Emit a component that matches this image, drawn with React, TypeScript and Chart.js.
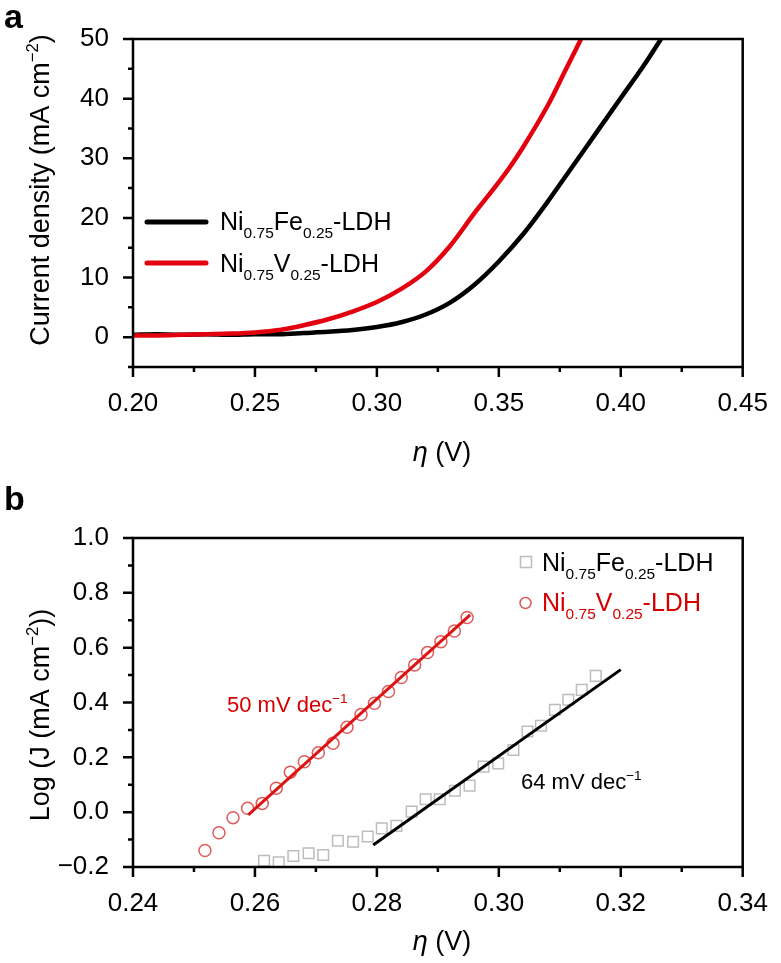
import React, { useEffect, useRef } from 'react';
import { Chart, registerables } from 'chart.js';

Chart.register(...registerables);

const FONT = '"Liberation Sans", Arial, Helvetica, sans-serif';

// ---------- Panel a: polarization curves ----------
const etaFe = [0.20, 0.21, 0.22, 0.23, 0.24, 0.25, 0.26, 0.27, 0.28, 0.29, 0.30, 0.31, 0.32, 0.33, 0.34, 0.35, 0.36, 0.37, 0.38, 0.39, 0.40, 0.41, 0.4165];
const jFe = [0.4, 0.5, 0.4, 0.5, 0.4, 0.5, 0.5, 0.7, 0.9, 1.2, 1.7, 2.5, 3.8, 5.8, 8.8, 12.7, 17.3, 22.7, 28.5, 34.3, 40.1, 45.9, 50];
const etaV = [0.20, 0.21, 0.22, 0.23, 0.24, 0.25, 0.26, 0.27, 0.28, 0.29, 0.30, 0.31, 0.32, 0.33, 0.34, 0.35, 0.355, 0.36, 0.37, 0.377, 0.3837];
const jV = [0.3, 0.3, 0.4, 0.5, 0.6, 0.8, 1.2, 2.0, 3.0, 4.3, 5.9, 8.1, 11.0, 15.3, 20.8, 26.0, 28.8, 31.9, 38.8, 44.5, 50];

// ---------- Panel b: Tafel plots ----------
const etaFeTafel = [0.2615, 0.2639, 0.2663, 0.2688, 0.2712, 0.2736, 0.2761, 0.2785, 0.2808, 0.2832, 0.2857, 0.2880, 0.2903, 0.2928, 0.2952, 0.2975, 0.2999, 0.3024, 0.3047, 0.3069, 0.3092, 0.3114, 0.3136, 0.3159];
const logJFe = [-0.177, -0.183, -0.16, -0.15, -0.156, -0.104, -0.108, -0.089, -0.059, -0.05, 0.002, 0.047, 0.047, 0.078, 0.097, 0.166, 0.178, 0.227, 0.294, 0.315, 0.373, 0.41, 0.446, 0.497];
const etaVTafel = [0.2518, 0.2541, 0.2564, 0.2588, 0.2612, 0.2635, 0.2658, 0.2681, 0.2704, 0.2728, 0.2751, 0.2774, 0.2796, 0.2819, 0.2840, 0.2862, 0.2883, 0.2905, 0.2927, 0.2948];
const logJV = [-0.14, -0.075, -0.02, 0.014, 0.032, 0.087, 0.146, 0.184, 0.217, 0.251, 0.31, 0.356, 0.397, 0.44, 0.491, 0.537, 0.582, 0.622, 0.661, 0.71];
const fitVEta = [0.2589, 0.2953];
const fitVLog = [-0.01, 0.72];
const fitFeEta = [0.2794, 0.3200];
const fitFeLog = [-0.12, 0.52];

const slopeLabels = ['50 mV dec', '64 mV dec'];

type Run = { t: string; sub?: boolean; sup?: boolean; italic?: boolean; bold?: boolean };

const NAME_FE: Run[] = [{ t: 'Ni' }, { t: '0.75', sub: true }, { t: 'Fe' }, { t: '0.25', sub: true }, { t: '-LDH' }];
const NAME_V: Run[] = [{ t: 'Ni' }, { t: '0.75', sub: true }, { t: 'V' }, { t: '0.25', sub: true }, { t: '-LDH' }];

function fontFor(r: Run, size: number) {
  const s = r.sub || r.sup ? size * 0.62 : size;
  return `${r.italic ? 'italic ' : ''}${r.bold ? 'bold ' : ''}${s}px ${FONT}`;
}

function drawRuns(ctx: CanvasRenderingContext2D, runs: Run[], x: number, y: number, size: number, color: string, align: 'left' | 'center' = 'left') {
  ctx.save();
  ctx.fillStyle = color;
  ctx.textBaseline = 'alphabetic';
  ctx.textAlign = 'left';
  let total = 0;
  for (const r of runs) {
    ctx.font = fontFor(r, size);
    total += ctx.measureText(r.t).width;
  }
  let cx = align === 'center' ? x - total / 2 : x;
  for (const r of runs) {
    ctx.font = fontFor(r, size);
    const dy = r.sub ? size * 0.3 : r.sup ? -size * 0.42 : 0;
    ctx.fillText(r.t, cx, y + dy);
    cx += ctx.measureText(r.t).width;
  }
  ctx.restore();
}

function frameAndTicks(chart: any) {
  const { ctx, chartArea: a } = chart;
  ctx.save();
  ctx.strokeStyle = '#000';
  ctx.lineWidth = 2.5;
  ctx.strokeRect(a.left, a.top, a.right - a.left, a.bottom - a.top);
  const xs = chart.scales.x;
  const ys = chart.scales.y;
  ctx.beginPath();
  xs.ticks.forEach((t: any) => {
    const px = xs.getPixelForValue(t.value);
    const len = t.label !== '' ? 10 : 5;
    ctx.moveTo(px, a.bottom);
    ctx.lineTo(px, a.bottom + len);
  });
  ys.ticks.forEach((t: any) => {
    const py = ys.getPixelForValue(t.value);
    const len = t.label !== '' ? 10 : 5;
    ctx.moveTo(a.left, py);
    ctx.lineTo(a.left - len, py);
  });
  ctx.stroke();
  ctx.restore();
}

function legendLine(ctx: CanvasRenderingContext2D, x1: number, x2: number, y: number, color: string) {
  ctx.save();
  ctx.strokeStyle = color;
  ctx.lineWidth = 5;
  ctx.lineCap = 'round';
  ctx.beginPath();
  ctx.moveTo(x1, y);
  ctx.lineTo(x2, y);
  ctx.stroke();
  ctx.restore();
}

const TITLE = 27;

const overlayA = {
  id: 'overlayA',
  afterDraw(chart: any) {
    const ctx = chart.ctx as CanvasRenderingContext2D;
    frameAndTicks(chart);
    drawRuns(ctx, [{ t: 'a', bold: true }], 4, 28, 34, '#000');
    legendLine(ctx, 147, 206, 222, '#000');
    legendLine(ctx, 147, 206, 263, '#e3000f');
    drawRuns(ctx, NAME_FE, 220, 230, 25, '#000');
    drawRuns(ctx, NAME_V, 220, 272, 25, '#000');
    drawRuns(ctx, [{ t: 'η', italic: true }, { t: ' (V)' }], 442, 461, TITLE, '#000', 'center');
    ctx.save();
    ctx.translate(49, 190);
    ctx.rotate(-Math.PI / 2);
    drawRuns(ctx, [{ t: 'Current density (mA cm' }, { t: '−2', sup: true }, { t: ')' }], 0, 0, TITLE, '#000', 'center');
    ctx.restore();
  },
};

const overlayB = {
  id: 'overlayB',
  afterDraw(chart: any) {
    const ctx = chart.ctx as CanvasRenderingContext2D;
    frameAndTicks(chart);
    drawRuns(ctx, [{ t: 'b', bold: true }], 4, 30, 34, '#000');
    ctx.save();
    ctx.strokeStyle = '#bdbdbd';
    ctx.lineWidth = 1.5;
    ctx.strokeRect(520.5, 76.5, 11, 11);
    ctx.strokeStyle = '#e05a5a';
    ctx.beginPath();
    ctx.arc(525.5, 123, 5.5, 0, Math.PI * 2);
    ctx.stroke();
    ctx.restore();
    drawRuns(ctx, NAME_FE, 542, 91, 25, '#000');
    drawRuns(ctx, NAME_V, 542, 131, 25, '#d40000');
    drawRuns(ctx, [{ t: slopeLabels[0] }, { t: '−1', sup: true }], 227, 232, 22, '#d40000');
    drawRuns(ctx, [{ t: slopeLabels[1] }, { t: '−1', sup: true }], 521, 309, 22, '#000');
    drawRuns(ctx, [{ t: 'η', italic: true }, { t: ' (V)' }], 442, 470, TITLE, '#000', 'center');
    ctx.save();
    ctx.translate(49, 235);
    ctx.rotate(-Math.PI / 2);
    drawRuns(ctx, [{ t: 'Log (J (mA cm' }, { t: '−2', sup: true }, { t: '))' }], 0, 0, TITLE, '#000', 'center');
    ctx.restore();
  },
};

const tickFont = { family: FONT, size: 26 };

function pts(xs: number[], ys: number[]) {
  return xs.map((x, i) => ({ x, y: ys[i] }));
}

export default function App() {
  const refA = useRef<HTMLCanvasElement>(null);
  const refB = useRef<HTMLCanvasElement>(null);

  useEffect(() => {
    const chartA = new Chart(refA.current!, {
      type: 'scatter',
      data: {
        datasets: [
          { label: 'Ni0.75V0.25-LDH', data: pts(etaV, jV), showLine: true, borderColor: '#e3000f', borderWidth: 4.5, pointRadius: 0, cubicInterpolationMode: 'monotone' },
          { label: 'Ni0.75Fe0.25-LDH', data: pts(etaFe, jFe), showLine: true, borderColor: '#000', borderWidth: 4.5, pointRadius: 0, cubicInterpolationMode: 'monotone' },
        ],
      },
      options: {
        responsive: false,
        animation: false,
        layout: { padding: { left: 0, right: 26, top: 39, bottom: 0 } },
        plugins: { legend: { display: false }, tooltip: { enabled: false } },
        scales: {
          x: {
            type: 'linear', min: 0.2, max: 0.45,
            grid: { display: false }, border: { display: false },
            afterFit: (s: any) => { s.height = 113; },
            ticks: {
              stepSize: 0.025, autoSkip: false, maxRotation: 0, padding: 13, color: '#000', font: tickFont,
              callback: (v: any) => (Math.round(Number(v) * 1000) % 50 === 0 ? Number(v).toFixed(2) : ''),
            },
          },
          y: {
            type: 'linear', min: -5, max: 50,
            grid: { display: false }, border: { display: false },
            afterFit: (s: any) => { s.width = 133; },
            ticks: {
              stepSize: 5, autoSkip: false, padding: 16, color: '#000', font: tickFont,
              callback: (v: any) => { const k = Math.round(Number(v)); return k % 10 === 0 && k >= 0 ? String(k) : ''; },
            },
          },
        },
      },
      plugins: [overlayA],
    });

    const chartB = new Chart(refB.current!, {
      type: 'scatter',
      data: {
        datasets: [
          { label: 'fitV', data: pts(fitVEta, fitVLog), showLine: true, borderColor: '#dc1414', borderWidth: 3, pointRadius: 0 },
          { label: 'fitFe', data: pts(fitFeEta, fitFeLog), showLine: true, borderColor: '#000', borderWidth: 3, pointRadius: 0 },
          { label: 'Ni0.75V0.25-LDH', data: pts(etaVTafel, logJV), pointStyle: 'circle', pointRadius: 6, borderWidth: 1.5, borderColor: '#e05a5a', backgroundColor: 'rgba(0,0,0,0)' },
          { label: 'Ni0.75Fe0.25-LDH', data: pts(etaFeTafel, logJFe), pointStyle: 'rect', pointRadius: 7.5, borderWidth: 1.5, borderColor: '#bdbdbd', backgroundColor: 'rgba(0,0,0,0)' },
        ],
      },
      options: {
        responsive: false,
        animation: false,
        layout: { padding: { left: 0, right: 31, top: 58, bottom: 0 } },
        plugins: { legend: { display: false }, tooltip: { enabled: false } },
        scales: {
          x: {
            type: 'linear', min: 0.24, max: 0.34,
            grid: { display: false }, border: { display: false },
            afterFit: (s: any) => { s.height = 96; },
            ticks: {
              stepSize: 0.01, autoSkip: false, maxRotation: 0, padding: 13, color: '#000', font: tickFont,
              callback: (v: any) => (Math.round(Number(v) * 100) % 2 === 0 ? Number(v).toFixed(2) : ''),
            },
          },
          y: {
            type: 'linear', min: -0.2, max: 1.0,
            grid: { display: false }, border: { display: false },
            afterFit: (s: any) => { s.width = 133; },
            ticks: {
              stepSize: 0.1, autoSkip: false, padding: 16, color: '#000', font: tickFont,
              callback: (v: any) => {
                const k = Math.round(Number(v) * 10);
                if (k % 2 !== 0) return '';
                return (k < 0 ? '−' : '') + Math.abs(k / 10).toFixed(1);
              },
            },
          },
        },
      },
      plugins: [overlayB],
    });

    return () => { chartA.destroy(); chartB.destroy(); };
  }, []);

  return (
    <div style={{ position: 'absolute', left: 0, top: 0, width: 781, height: 963, background: '#fff' }}>
      <canvas ref={refA} width={781} height={480} style={{ position: 'absolute', left: 0, top: 0, width: 781, height: 480 }} />
      <canvas ref={refB} width={781} height={483} style={{ position: 'absolute', left: 0, top: 480, width: 781, height: 483 }} />
    </div>
  );
}
